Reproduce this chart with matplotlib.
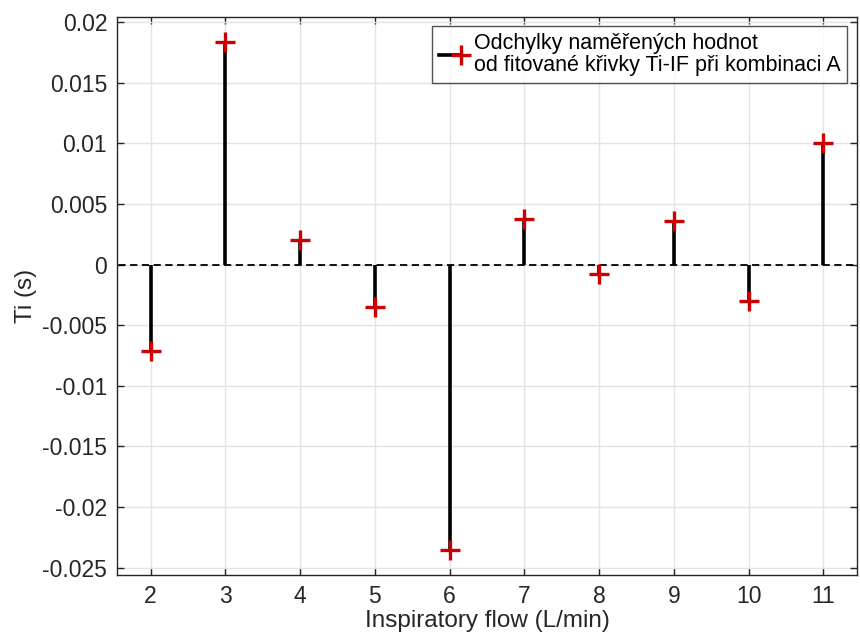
import matplotlib
matplotlib.use("Agg")
import matplotlib.pyplot as plt
from matplotlib.lines import Line2D
import numpy as np

plt.rcParams['font.family'] = ['Liberation Sans', 'DejaVu Sans']

# Deviations of measured Ti from the fitted Ti-IF curve
flow = [2, 3, 4, 5, 6, 7, 8, 9, 10, 11]
deviation = [-0.0071, 0.0184, 0.0020, -0.0035, -0.0235, 0.0038, -0.0008, 0.0036, -0.0030, 0.0100]

yticks = [0.02, 0.015, 0.01, 0.005, 0, -0.005, -0.01, -0.015, -0.02, -0.025]
ytick_labels = ['0.02', '0.015', '0.01', '0.005', '0', '-0.005', '-0.01', '-0.015', '-0.02', '-0.025']
xticks = flow
legend_text = 'Odchylky naměřených hodnot\nod fitované křivky Ti-IF při kombinaci A'

TXT = '#262626'
RED = '#cc0000'

fig = plt.figure(figsize=(8.6, 6.42), dpi=100)
ax = fig.add_axes([0.136, 0.1044, 0.8605, 0.8696])

markerline, stemlines, baseline = ax.stem(flow, deviation, linefmt='k-', markerfmt='+', basefmt='k--')
stemlines.set_linewidth(2.6)
markerline.set_color(RED)
markerline.set_markersize(14)
markerline.set_markeredgewidth(2.4)
markerline.set_zorder(4)
baseline.set_linewidth(1.3)
baseline.set_xdata([0, 13])
baseline.set_dashes([4, 2.5])

ax.set_xlim(1.55, 11.45)
ax.set_ylim(-0.0256, 0.02046)
ax.set_xticks(xticks)
ax.set_xticklabels([str(v) for v in xticks])
ax.set_yticks(yticks)
ax.set_yticklabels(ytick_labels)

ax.grid(True, color='#e3e3e3', linewidth=1.0)
ax.set_axisbelow(True)
ax.tick_params(direction='in', length=5, width=1.0, colors=TXT, labelsize=16.5,
               top=True, right=True, pad=7)
for s in ax.spines.values():
    s.set_color(TXT)
    s.set_linewidth(1.0)

ax.set_xlabel('Inspiratory flow (L/min)', fontsize=17.5, color=TXT, labelpad=2)
ax.set_ylabel('Ti (s)', fontsize=17.5, color=TXT, labelpad=4)


class StemLegendHandler:
    def legend_artist(self, legend, orig_handle, fontsize, handlebox):
        x0, y0 = handlebox.xdescent, handlebox.ydescent
        w, h = handlebox.width, handlebox.height
        yc = y0 + h / 2
        line = Line2D([x0, x0 + w * 0.75], [yc, yc], color='k', linewidth=2.6)
        mark = Line2D([x0 + w * 0.75], [yc], marker='+', color=RED,
                      markersize=14, markeredgewidth=2.4, linestyle='none')
        handlebox.add_artist(line)
        handlebox.add_artist(mark)
        return line


proxy = object()
leg = ax.legend([proxy], [legend_text], handler_map={object: StemLegendHandler()},
                loc='upper right', fontsize=15.5, frameon=True, fancybox=False,
                edgecolor=TXT, handlelength=1.4, handletextpad=0.25,
                borderpad=0.3, borderaxespad=0.45, labelspacing=0.1)
leg.get_frame().set_linewidth(1.0)
for t in leg.get_texts():
    t.set_color('k')
    t.set_linespacing(1.1)

fig.savefig('out.png', dpi=100, facecolor='white')
